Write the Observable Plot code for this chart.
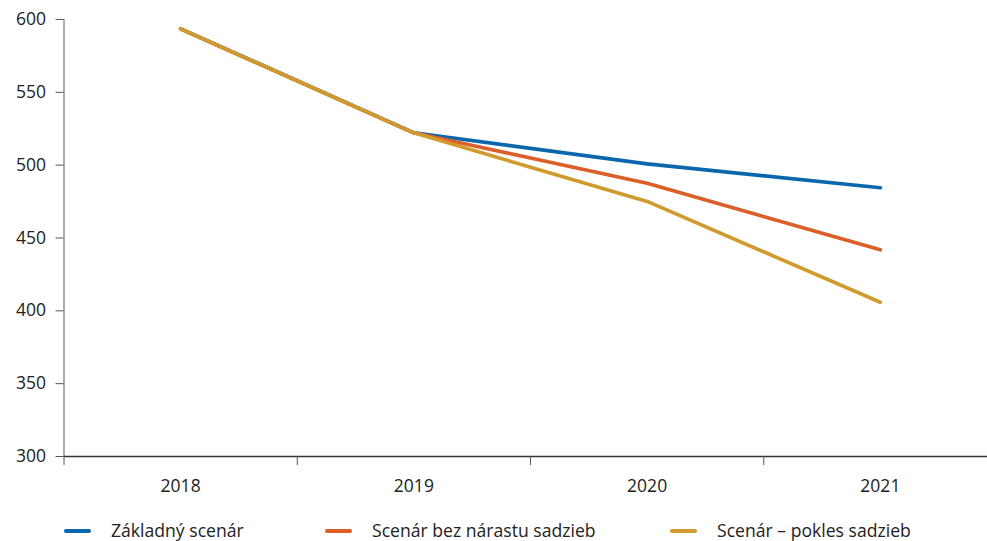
<!DOCTYPE html>
<html>
<head>
<meta charset="utf-8">
<script src="https://cdn.jsdelivr.net/npm/d3@7"></script>
<script src="https://cdn.jsdelivr.net/npm/@observablehq/plot@0.6"></script>
<style>
  html, body { margin: 0; padding: 0; background: #fff; width: 987px; height: 541px; overflow: hidden; font-family: "Open Sans", Lato, sans-serif; }
  #chart { position: relative; width: 987px; height: 541px; }
  #legend { position: absolute; left: 0; top: 520px; width: 987px; height: 21px; font-size: 17.6px; line-height: 21px; color: #222; }
  .item { position: absolute; top: 0; display: flex; align-items: center; height: 21px; }
  .sw { width: 27px; height: 4px; border-radius: 2px; margin-right: 20px; }
</style>
</head>
<body>
<div id="chart"></div>
<script>
const years = [2018, 2019, 2020, 2021];
const seriesNames = ["Základný scenár", "Scenár bez nárastu sadzieb", "Scenár – pokles sadzieb"];
const zakladny = [593.6, 522.2, 500.9, 484.5];
const bezNarastu = [593.6, 522.2, 487.6, 441.9];
const pokles = [593.6, 522.2, 475.1, 405.9];
const colors = ["#0a67ae", "#dc5f28", "#d19a2d"];
const yTicks = [300, 350, 400, 450, 500, 550, 600];
const bandEdges = [2017.5, 2018.5, 2019.5, 2020.5, 2021.5];

const values = [zakladny, bezNarastu, pokles];
const data = [];
seriesNames.forEach((s, i) => years.forEach((y, j) => data.push({series: s, year: y, value: values[i][j]})));

const W = 987, H = 505;
const plot = Plot.plot({
  width: W,
  height: H,
  marginLeft: 63.5,
  marginRight: 0,
  marginTop: 19,
  marginBottom: 49,
  style: {fontFamily: "'Open Sans', Lato, sans-serif", fontSize: "17.5px", color: "#222", overflow: "visible"},
  x: {type: "linear", domain: [2017.5, 2021.5], range: [63.5, 996.5]},
  y: {domain: [300, 600], range: [456, 19]},
  color: {domain: seriesNames, range: colors},
  marks: [
    Plot.ruleX([2017.5], {y1: 300, y2: 600, stroke: "#777", strokeWidth: 1.2}),
    Plot.ruleY([300], {stroke: "#333", strokeWidth: 1.4}),
    Plot.axisY({ticks: yTicks, tickSize: 8, tickPadding: 10, stroke: "#555", label: null, fontSize: 17.5, tickFormat: d => String(d)}),
    Plot.axisX({ticks: bandEdges, tickSize: 9, tickFormat: () => "", stroke: "#555", label: null}),
    Plot.axisX({ticks: years, tickSize: 0, tickPadding: 23, tickFormat: d => String(d), label: null, fontSize: 17.5}),
    Plot.line(data, {x: "year", y: "value", z: "series", stroke: "series", strokeWidth: 3.6, curve: "linear"})
  ]
});
document.getElementById("chart").appendChild(plot);

const legend = document.createElement("div");
legend.id = "legend";
const lefts = [64, 325, 670];
seriesNames.forEach((s, i) => {
  const it = document.createElement("div");
  it.className = "item";
  it.style.left = lefts[i] + "px";
  const sw = document.createElement("div");
  sw.className = "sw";
  sw.style.background = colors[i];
  const t = document.createElement("span");
  t.textContent = s;
  it.appendChild(sw); it.appendChild(t);
  legend.appendChild(it);
});
document.getElementById("chart").appendChild(legend);
</script>
</body>
</html>
